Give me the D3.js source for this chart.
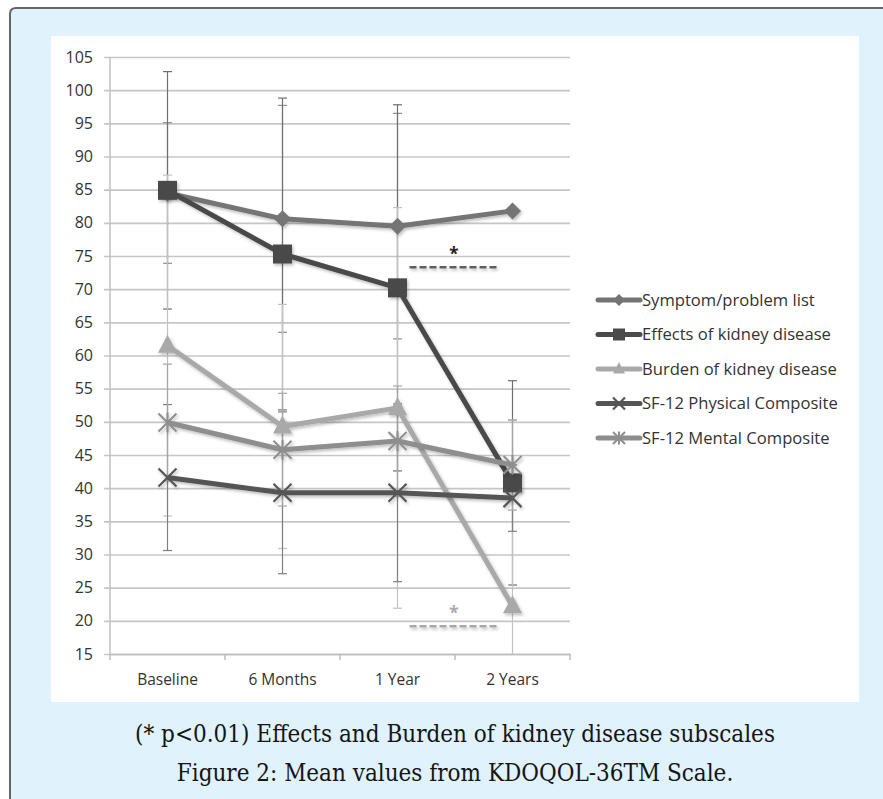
<!DOCTYPE html>
<html><head><meta charset="utf-8">
<script src="https://cdn.jsdelivr.net/npm/d3@7/dist/d3.min.js"></script>
<style>
html,body{margin:0;padding:0;background:#fff;}
svg{display:block;}
</style></head>
<body>
<svg id="chart" width="883" height="799"></svg>
<script>
const categories = ["Baseline", "6 Months", "1 Year", "2 Years"];
const yTicks = [15,20,25,30,35,40,45,50,55,60,65,70,75,80,85,90,95,100,105];
const seriesNames = ["Symptom/problem list","Effects of kidney disease","Burden of kidney disease","SF-12 Physical Composite","SF-12 Mental Composite"];
const symptom  = [84.5, 80.6, 79.5, 81.8];
const effects  = [84.9, 75.3, 70.2, 40.8];
const burden   = [61.5, 49.3, 52.1, 22.2];
const physical = [41.6, 39.3, 39.3, 38.5];
const mental   = [49.9, 45.8, 47.1, 43.5];
const symptomErr  = [10.6, 17.1, 17.0, 0];
const effectsErr  = [17.9, 23.5, 27.6, 15.4];
const burdenErr   = [25.7, 18.4, 30.2, 28.0];
const physicalErr = [11.0, 12.2, 13.4, 5.0];
const mentalErr   = [8.8, 8.5, 8.3, 6.8];
const sigLabels = ["*", "*"];
const sigLevels = [73.3, 19.2];
const captions = ["(* p<0.01) Effects and Burden of kidney disease subscales", "Figure 2: Mean values from KDOQOL-36TM Scale."];

const seriesValues = [symptom, effects, burden, physical, mental];
const seriesErrs = [symptomErr, effectsErr, burdenErr, physicalErr, mentalErr];
const colors = ["#747474", "#4a4a4a", "#a9a9a9", "#555555", "#8e8e8e"];
const errColors = ["#8f8f8f", "#707070", "#c2c2c2", "#808080", "#a6a6a6"];
const markers = ["diamond", "square", "triangle", "x", "star"];

const svg = d3.select("#chart");
const defs = svg.append("defs");
const f = defs.append("filter").attr("id","shadow").attr("filterUnits","userSpaceOnUse")
  .attr("x",0).attr("y",0).attr("width",883).attr("height",799);
f.append("feDropShadow").attr("dx",1.5).attr("dy",2).attr("stdDeviation",1.5).attr("flood-color","#000").attr("flood-opacity",0.25);

// frame
svg.append("rect").attr("x",0).attr("y",0).attr("width",883).attr("height",799).attr("fill","#ffffff");
svg.append("path")
  .attr("d","M10,805 L10,14 Q10,8 16,8 L890,8 L890,805 Z")
  .attr("fill","#e0f2fc").attr("stroke","#666").attr("stroke-width",2);
svg.append("rect").attr("x",51).attr("y",36).attr("width",808).attr("height",666).attr("fill","#fff");

const plotL = 110, plotR = 570, plotT = 57, plotB = 654;
const x = d3.scaleBand().domain(categories).range([plotL, plotR]).padding(0);
const cx = c => x(c) + x.bandwidth()/2;
const y = d3.scaleLinear().domain([15,105]).range([plotB, plotT]);

defs.append("clipPath").attr("id","plotclip").append("rect")
  .attr("x",plotL-10).attr("y",plotT-2).attr("width",plotR-plotL+20).attr("height",plotB-plotT+2);

// gridlines + y axis
const yAxis = d3.axisLeft(y).tickValues(yTicks).tickSize(-(plotR-plotL)).tickPadding(11).tickSizeOuter(0);
const gy = svg.append("g").attr("transform",`translate(${plotL},0)`).call(yAxis);
gy.select(".domain").remove();
gy.selectAll(".tick line").attr("stroke","#c6c6c6").attr("stroke-width",1.6).attr("x1",-6);
gy.selectAll(".tick text").attr("font-family","'Open Sans'").attr("font-size",16).attr("fill","#333").attr("x",-17);
svg.append("line").attr("x1",plotL).attr("x2",plotL).attr("y1",plotT).attr("y2",plotB).attr("stroke","#c0c0c0").attr("stroke-width",1.5);

// x axis
const xAxis = d3.axisBottom(x).tickSize(0).tickPadding(20);
const gx = svg.append("g").attr("transform",`translate(0,${plotB})`).call(xAxis);
gx.select(".domain").attr("stroke","#bdbdbd").attr("stroke-width",1.5);
gx.selectAll(".tick text").attr("font-family","'Open Sans'").attr("font-size",15.5).attr("fill","#333");
const edges = categories.map(c => x(c)).concat([plotR]);
svg.append("g").selectAll("line").data(edges).join("line")
  .attr("x1",d=>d).attr("x2",d=>d).attr("y1",plotB).attr("y2",plotB+6)
  .attr("stroke","#bdbdbd").attr("stroke-width",1.5);

// error bars
const eg = svg.append("g").attr("clip-path","url(#plotclip)");
seriesValues.forEach((vals, si) => {
  vals.forEach((v, i) => {
    const e = seriesErrs[si][i];
    if (!e) return;
    const xc = cx(categories[i]);
    const g = eg.append("g").attr("stroke", errColors[si]).attr("stroke-width",1.2);
    g.append("line").attr("x1",xc).attr("x2",xc).attr("y1",y(v+e)).attr("y2",y(v-e));
    [v+e, v-e].forEach(t => {
      g.append("line").attr("x1",xc-4.5).attr("x2",xc+4.5).attr("y1",y(t)).attr("y2",y(t));
    });
  });
});

// markers
function drawMarker(g, type, px, py, color, s) {
  if (type === "diamond") {
    g.append("path").attr("d",`M${px},${py-s}L${px+s},${py}L${px},${py+s}L${px-s},${py}Z`).attr("fill",color);
  } else if (type === "square") {
    g.append("rect").attr("x",px-s).attr("y",py-s).attr("width",2*s).attr("height",2*s).attr("fill",color);
  } else if (type === "triangle") {
    g.append("path").attr("d",`M${px},${py-s*1.15}L${px+s},${py+s*0.75}L${px-s},${py+s*0.75}Z`).attr("fill",color);
  } else if (type === "x") {
    g.append("path").attr("d",`M${px-s},${py-s}L${px+s},${py+s}M${px+s},${py-s}L${px-s},${py+s}`).attr("stroke",color).attr("stroke-width",2.2);
  } else if (type === "star") {
    g.append("path").attr("d",`M${px-s},${py-s}L${px+s},${py+s}M${px+s},${py-s}L${px-s},${py+s}M${px},${py-s*1.1}L${px},${py+s*1.1}`).attr("stroke",color).attr("stroke-width",2);
  }
}
const markerSize = [8.5, 9.5, 9.5, 9, 9];

const line = d3.line().x((d,i)=>cx(categories[i])).y(d=>y(d));
seriesValues.forEach((vals, si) => {
  const g = svg.append("g").attr("filter","url(#shadow)");
  g.append("path").attr("d", line(vals)).attr("fill","none").attr("stroke",colors[si]).attr("stroke-width",5).attr("stroke-linejoin","round");
  vals.forEach((v,i) => drawMarker(g, markers[si], cx(categories[i]), y(v), colors[si], markerSize[si]));
});

// significance annotations
const sigColors = ["#5e5e5e", "#a8a8a8"];
const sigX0 = cx(categories[2]) + 12, sigX1 = cx(categories[3]) - 14;
sigLevels.forEach((lv, k) => {
  svg.append("line").attr("x1",sigX0).attr("x2",sigX1).attr("y1",y(lv)).attr("y2",y(lv))
    .attr("stroke",sigColors[k]).attr("stroke-width",2.5).attr("stroke-dasharray","7,3").attr("filter","url(#shadow)");
  svg.append("text").attr("x",(sigX0+sigX1)/2).attr("y",y(lv)-7).attr("text-anchor","middle")
    .attr("font-family","'Open Sans'").attr("font-size",17).attr("font-weight","bold").attr("fill",k===0?"#222":"#aaa").text(sigLabels[k]);
});

// legend
const lg = svg.append("g");
seriesNames.forEach((n, si) => {
  const ly = 300 + si*34.5;
  const g = lg.append("g");
  g.append("line").attr("x1",598).attr("x2",640).attr("y1",ly).attr("y2",ly).attr("stroke",colors[si]).attr("stroke-width",5).attr("stroke-linecap","round");
  drawMarker(g, markers[si], 619, ly, colors[si], 6);
  lg.append("text").attr("x",642).attr("y",ly).attr("dy","0.36em").attr("font-family","'Open Sans'").attr("font-size",16.6).attr("fill","#333").text(n);
});

// captions
captions.forEach((c, k) => {
  svg.append("text").attr("x",455).attr("y",[742,781][k]).attr("text-anchor","middle")
    .attr("font-family","'DejaVu Serif'").attr("font-stretch","condensed").attr("font-size",24).attr("fill","#151515").text(c);
});
</script>
</body></html>
